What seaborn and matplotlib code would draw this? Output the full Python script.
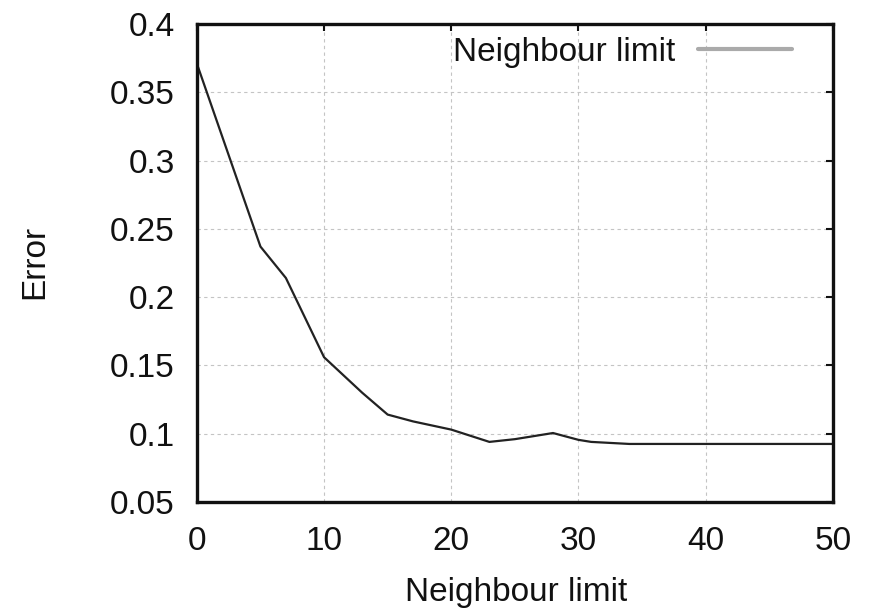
import matplotlib
matplotlib.use("Agg")
import matplotlib.pyplot as plt
from matplotlib.lines import Line2D
import seaborn as sns
import pandas as pd

neighbour_limit = [0, 5, 7, 10, 13, 15, 17, 20, 23, 25, 28, 30, 31, 34, 40, 50]
error = [0.371, 0.237, 0.214, 0.156, 0.130, 0.114, 0.109, 0.103, 0.094, 0.096,
         0.1005, 0.0955, 0.094, 0.0925, 0.0925, 0.0925]
x_ticks = [0, 10, 20, 30, 40, 50]
y_ticks = [0.05, 0.1, 0.15, 0.2, 0.25, 0.3, 0.35, 0.4]
y_tick_labels = ["0.05", "0.1", "0.15", "0.2", "0.25", "0.3", "0.35", "0.4"]
series_label = "Neighbour limit"

df = pd.DataFrame({"x": neighbour_limit, "y": error})

sns.set_style("white")
plt.rcParams["font.family"] = ["Liberation Sans", "DejaVu Sans"]

FS = 24

fig = plt.figure(figsize=(8.71, 6.09), dpi=100)
ax = fig.add_axes([0.226, 0.1757, 0.7302, 0.785])

sns.lineplot(data=df, x="x", y="y", ax=ax, color="#222222", linewidth=1.6)

ax.set_xlim(0, 50)
ax.set_ylim(0.05, 0.4)
ax.set_xticks(x_ticks)
ax.set_xticklabels([str(t) for t in x_ticks])
ax.set_yticks(y_ticks)
ax.set_yticklabels(y_tick_labels)
ax.grid(True, color="#c4c4c4", linestyle=(0, (3, 3)), linewidth=0.8)
for s in ax.spines.values():
    s.set_visible(True)
    s.set_color("#111111")
    s.set_linewidth(2.4)
ax.tick_params(direction="in", length=5, width=1.5, top=True, right=True,
               labelsize=FS, colors="#111111", labelcolor="#111111")
ax.tick_params(axis="x", pad=17.5)
ax.tick_params(axis="y", pad=16)
ax.set_xlabel("Neighbour limit", fontsize=FS, color="#111111", va="center")
ax.xaxis.set_label_coords(0.5016, -0.19)
ax.set_ylabel("Error", fontsize=FS, color="#111111", va="center")
ax.yaxis.set_label_coords(-0.255, 0.502)

handle = Line2D([], [], color="#aaaaaa", linewidth=3.0)
leg = ax.legend([handle], [series_label], loc="upper right", frameon=False,
                markerfirst=False, fontsize=FS, handlelength=2.8,
                borderaxespad=0.0, borderpad=0.0, handletextpad=0.7,
                bbox_to_anchor=(0.9355, 0.973))
for t in leg.get_texts():
    t.set_color("#111111")

fig.savefig("out.png", dpi=100, facecolor="white")
